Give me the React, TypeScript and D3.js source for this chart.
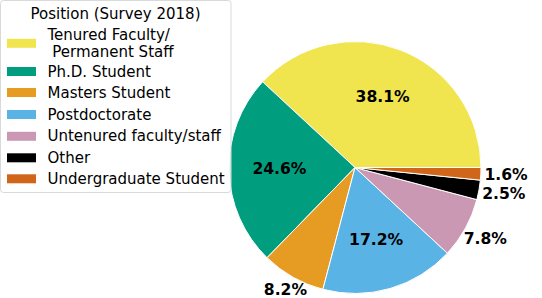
import React from 'react';
import * as d3 from 'd3';

// Survey 2018 positions, values are the percentages shown on the pie
const categories = [
    'Tenured Faculty/\n Permanent Staff',
    'Ph.D. Student',
    'Masters Student',
    'Postdoctorate',
    'Untenured faculty/staff',
    'Other',
    'Undergraduate Student',
];
const shares = [38.1, 24.6, 8.2, 17.2, 7.8, 2.5, 1.6];
const colors = ['#F1E54F', '#009E7F', '#E69C22', '#5AB3E5', '#CB98B3', '#000000', '#D0661A'];
// where the % label sits, as a fraction of the radius
const labelDistance = [0.6, 0.6, 1.12, 0.6, 1.18, 1.2, 1.2];

const width = 542;
const height = 298;
const cx = 355;
const cy = 167.5;
const radius = 126;
const font = "'DejaVu Sans', sans-serif";

const App: React.FC = () => {
    // matplotlib style: start at 3 o'clock and go counter-clockwise
    const pie = d3.pie<number>()
        .sort(null)
        .value(d => d)
        .startAngle(Math.PI / 2)
        .endAngle(Math.PI / 2 - 2 * Math.PI);

    const arcs = pie(shares);
    const arc = d3.arc<d3.PieArcDatum<number>>().innerRadius(0).outerRadius(radius);

    const legendX = 7;
    const rowY = [43.3, 71.5, 92.5, 114.5, 136.3, 157.8, 178.8];

    return (
        <svg width={width} height={height} style={{ position: 'absolute', left: 0, top: 0 }}>
            <rect width={width} height={height} fill="#fff" />
            <g transform={`translate(${cx},${cy})`}>
                {arcs.map((a, i) => (
                    <path key={i} d={arc(a) || ''} fill={colors[i]} stroke="#fff" strokeWidth={1} />
                ))}
                {arcs.map((a, i) => {
                    const mid = (a.startAngle + a.endAngle) / 2;
                    const r = radius * labelDistance[i];
                    return (
                        <text key={i} x={Math.sin(mid) * r} y={-Math.cos(mid) * r}
                            textAnchor="middle" dominantBaseline="central"
                            fontFamily={font} fontWeight="bold" fontSize={15.6} fill="#000">
                            {d3.format('.1f')(a.data)}%
                        </text>
                    );
                })}
            </g>

            {/* legend */}
            <rect x={0.5} y={0.5} width={230.5} height={192} rx={3} fill="#fff" fillOpacity={0.8} stroke="#d9d9d9" />
            <text x={115.5} y={18.5} textAnchor="middle" fontFamily={font} fontSize={15} fill="#000">
                Position (Survey 2018)
            </text>
            {categories.map((c, i) => {
                const lines = c.split('\n');
                return (
                    <g key={i}>
                        <rect x={legendX} y={rowY[i] - 4.5} width={29} height={9} fill={colors[i]} />
                        <text fontFamily={font} fontSize={15} fill="#000" xmlSpace="preserve"
                            style={{ whiteSpace: 'pre' }}>
                            {lines.map((l, j) => (
                                <tspan key={j} x={47.5}
                                    y={rowY[i] + 5 + (j - (lines.length - 1) / 2) * 16.5}>{l}</tspan>
                            ))}
                        </text>
                    </g>
                );
            })}
        </svg>
    );
};

export default App;
